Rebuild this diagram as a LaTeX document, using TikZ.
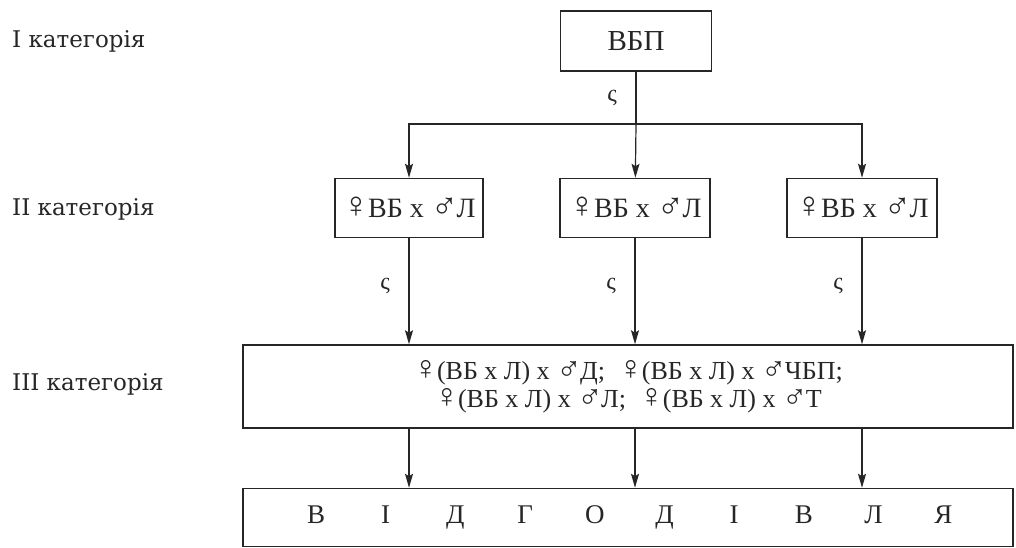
\documentclass[tikz,border=0pt]{standalone}
\usepackage{fontspec}
\setmainfont{Liberation Serif}
\newfontfamily\labfont{DejaVu Serif}
\usetikzlibrary{arrows.meta}
\definecolor{ink}{RGB}{38,38,38}
\newcommand{\slot}[1]{\makebox[69.7pt]{#1}}
\newcommand{\fem}{\scalebox{1.3}{♀}\kern-1.5pt}
\newcommand{\mal}{\raisebox{-1.5pt}{\scalebox{1.3}{♂}}\kern-1.5pt}
\begin{document}
\begin{tikzpicture}[x=1pt,y=-1pt,
  box/.style={draw=ink,line width=1.5pt,inner sep=0pt,text=ink,font=\fontsize{28}{30}\selectfont},
  conn/.style={draw=ink,line width=1.2pt},
  arr/.style={conn,-{Stealth[length=14pt,width=8pt,inset=2.5pt]}},
  sig/.style={text=ink,font=\fontsize{24}{26}\selectfont,xshift=-24pt},
  lab/.style={anchor=base west,inner sep=0pt,text=ink,font=\labfont\fontsize{23}{26}\selectfont}]
\useasboundingbox (0,0) rectangle (1016,548);
% category labels
\node[lab] (c1) at (12,48) {I категорія};
\node[lab] (c2) at (12,215) {II категорія};
\node[lab] (c3) at (12,390) {III категорія};
% boxes
\node[box,minimum width=151pt,minimum height=60pt,font=\fontsize{29}{30}\selectfont] (top) at (636,41) {ВБП};
\node[box,minimum width=148pt,minimum height=59pt] (l) at (409,208) {\fem ВБ х \mal Л};
\node[box,minimum width=150pt,minimum height=59pt] (m) at (635,208) {\fem ВБ х \mal Л};
\node[box,minimum width=150pt,minimum height=59pt] (r) at (862,208) {\fem ВБ х \mal Л};
\node[box,minimum width=770pt,minimum height=83pt,align=center,font=\fontsize{26}{28}\selectfont] (iii) at (628,386.5)
  {\fem(ВБ х Л) х \mal Д;\ \ \fem(ВБ х Л) х \mal ЧБП;\\\fem(ВБ х Л) х \mal Л;\ \ \fem(ВБ х Л) х \mal Т};
\node[box,minimum height=58pt,text width=770pt,align=left,font=\fontsize{27}{30}\selectfont] (bot) at (628,517.5)
  {\hspace*{38.15pt}\slot{В}\slot{І}\slot{Д}\slot{Г}\slot{О}\slot{Д}\slot{І}\slot{В}\slot{Л}\slot{Я}};
% connectors
\coordinate (j) at (636,124);
\draw[conn] (top) -- node[sig]{ς} (j);
\draw[arr] (j) -| (l);
\draw[arr] (j) -| (r);
\draw[arr] (j) -- (m);
\draw[arr] (l) -- node[sig,pos=0.45]{ς} (l.south |- iii.north);
\draw[arr] (m) -- node[sig,pos=0.45]{ς} (m.south |- iii.north);
\draw[arr] (r) -- node[sig,pos=0.45]{ς} (r.south |- iii.north);
\draw[arr] (l.south |- iii.south) -- (l.south |- bot.north);
\draw[arr] (m.south |- iii.south) -- (m.south |- bot.north);
\draw[arr] (r.south |- iii.south) -- (r.south |- bot.north);
\end{tikzpicture}
\end{document}
